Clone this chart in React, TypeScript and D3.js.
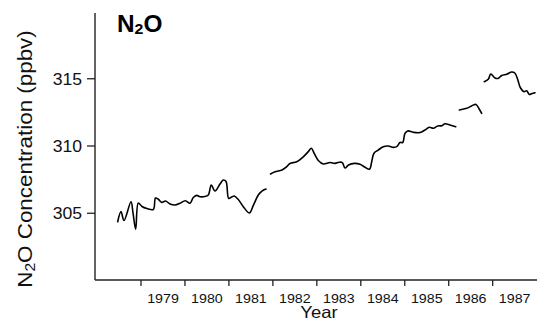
import React from "react";
import * as d3 from "d3";

// Segment data: [year, N2O ppbv]
const seg1: [number, number][] = [
  [1978.47, 304.37], [1978.545, 305.12], [1978.613, 304.46], [1978.773, 305.86],
  [1978.818, 305.02], [1978.879, 303.81], [1978.939, 305.76], [1979.023, 305.5],
  [1979.136, 305.35], [1979.28, 305.28], [1979.33, 306.13], [1979.394, 306.04],
  [1979.471, 305.81], [1979.557, 305.91], [1979.66, 305.69], [1979.773, 305.61],
  [1979.887, 305.74], [1980.008, 305.93], [1980.115, 305.74], [1980.19, 306.17],
  [1980.267, 306.33], [1980.342, 306.23], [1980.456, 306.25], [1980.531, 306.36],
  [1980.599, 307.1], [1980.683, 306.65], [1980.797, 307.17], [1980.872, 307.47],
  [1980.934, 307.36], [1980.995, 306.1], [1981.063, 306.21], [1981.122, 306.28],
  [1981.213, 306.02], [1981.327, 305.49], [1981.464, 305.02], [1981.555, 305.58],
  [1981.668, 306.36], [1981.752, 306.65], [1981.843, 306.8],
];
const seg2: [number, number][] = [
  [1981.946, 307.92], [1982.048, 308.09], [1982.207, 308.22], [1982.314, 308.46],
  [1982.389, 308.7], [1982.542, 308.83], [1982.685, 309.18], [1982.806, 309.58],
  [1982.874, 309.83], [1982.947, 309.41], [1983.033, 308.92], [1983.147, 308.66],
  [1983.299, 308.77], [1983.413, 308.71], [1983.504, 308.79], [1983.579, 308.77],
  [1983.641, 308.36], [1983.72, 308.59], [1983.857, 308.71], [1983.982, 308.64],
  [1984.096, 308.42], [1984.198, 308.27], [1984.248, 308.83], [1984.3, 309.46],
  [1984.398, 309.7], [1984.512, 309.95], [1984.626, 310.0], [1984.739, 309.9],
  [1984.817, 309.95], [1984.892, 310.26], [1984.953, 310.26], [1985.005, 310.94],
  [1985.067, 311.12], [1985.194, 311.02], [1985.347, 311.0], [1985.46, 311.19],
  [1985.558, 311.39], [1985.649, 311.32], [1985.751, 311.49], [1985.84, 311.51],
  [1985.915, 311.65], [1986.029, 311.56], [1986.159, 311.43],
];
const seg3: [number, number][] = [
  [1986.241, 312.68], [1986.409, 312.8], [1986.529, 313.0], [1986.621, 313.09],
  [1986.696, 312.73], [1986.75, 312.43],
];
const seg4: [number, number][] = [
  [1986.809, 314.78], [1986.9, 314.96], [1986.957, 315.35], [1987.053, 315.06],
  [1987.121, 315.02], [1987.205, 315.24], [1987.319, 315.34], [1987.433, 315.5],
  [1987.508, 315.41], [1987.576, 314.87], [1987.628, 314.35], [1987.712, 314.04],
  [1987.774, 314.11], [1987.833, 313.83], [1987.894, 313.9], [1987.963, 313.96],
];
const segments = [seg1, seg2, seg3, seg4];

const yearTicks = [1979, 1980, 1981, 1982, 1983, 1984, 1985, 1986, 1987];
const valueTicks = [305, 310, 315];

const W = 537;
const H = 332;
const FONT = "'Liberation Sans', Arial, Helvetica, sans-serif";

export default function App() {
  const x = d3.scaleLinear().domain([1978, 1988]).range([97.04, 536.64]);
  const y = d3.scaleLinear().domain([300, 320]).range([280.5, 11.5]);
  const axisLeft = 95;
  const axisBottom = 280;

  const line = d3
    .line<[number, number]>()
    .x((d) => x(d[0]))
    .y((d) => y(d[1]))
    .curve(d3.curveCatmullRom.alpha(0.5));

  return (
    <svg
      width={W}
      height={H}
      style={{ position: "absolute", left: 0, top: 0, background: "#fff" }}
    >
      <rect width={W} height={H} fill="#fff" />
      {/* axes */}
      <line x1={axisLeft} x2={axisLeft} y1={13} y2={axisBottom} stroke="#222" strokeWidth={1.4} />
      <line x1={axisLeft} x2={W} y1={axisBottom} y2={axisBottom} stroke="#222" strokeWidth={1.4} />
      {valueTicks.map((v) => (
        <g key={v}>
          <line x1={axisLeft - 8} x2={axisLeft} y1={y(v)} y2={y(v)} stroke="#222" strokeWidth={1.3} />
          <text
            transform={`translate(82,${y(v) + 5.8}) scale(1.1,1)`}
            textAnchor="end"
            fontFamily={FONT}
            fontSize={16}
            fill="#111"
          >
            {v}
          </text>
        </g>
      ))}
      {yearTicks.map((t) => (
        <g key={t}>
          <line x1={x(t)} x2={x(t)} y1={axisBottom} y2={axisBottom + 6} stroke="#222" strokeWidth={1.3} />
          <text
            transform={`translate(${x(t + 0.5)},302.5) scale(1.08,1)`}
            textAnchor="middle"
            fontFamily={FONT}
            fontSize={13.2}
            fill="#111"
          >
            {t}
          </text>
        </g>
      ))}
      <text
        transform={`translate(319,318) scale(1.12,1)`}
        textAnchor="middle"
        fontFamily={FONT}
        fontSize={16.5}
        fill="#111"
      >
        Year
      </text>
      <text
        transform={`translate(31.5,159) rotate(-90) scale(1.12,1)`}
        textAnchor="middle"
        fontFamily={FONT}
        fontSize={20}
        fill="#111"
      >
        N<tspan fontSize={14} dy={3}>2</tspan>
        <tspan dy={-3}>O Concentration (ppbv)</tspan>
      </text>
      <text
        transform={`translate(117,32) scale(1.06,1)`}
        fontFamily={FONT}
        fontSize={23}
        fontWeight="bold"
        fill="#000"
      >
        N<tspan fontSize={15} dy={1.5}>2</tspan>
        <tspan dy={-1.5}>O</tspan>
      </text>
      {/* data */}
      {segments.map((s, i) => (
        <path key={i} d={line(s) ?? ""} fill="none" stroke="#000" strokeWidth={1.6} strokeLinejoin="round" strokeLinecap="round" />
      ))}
    </svg>
  );
}
